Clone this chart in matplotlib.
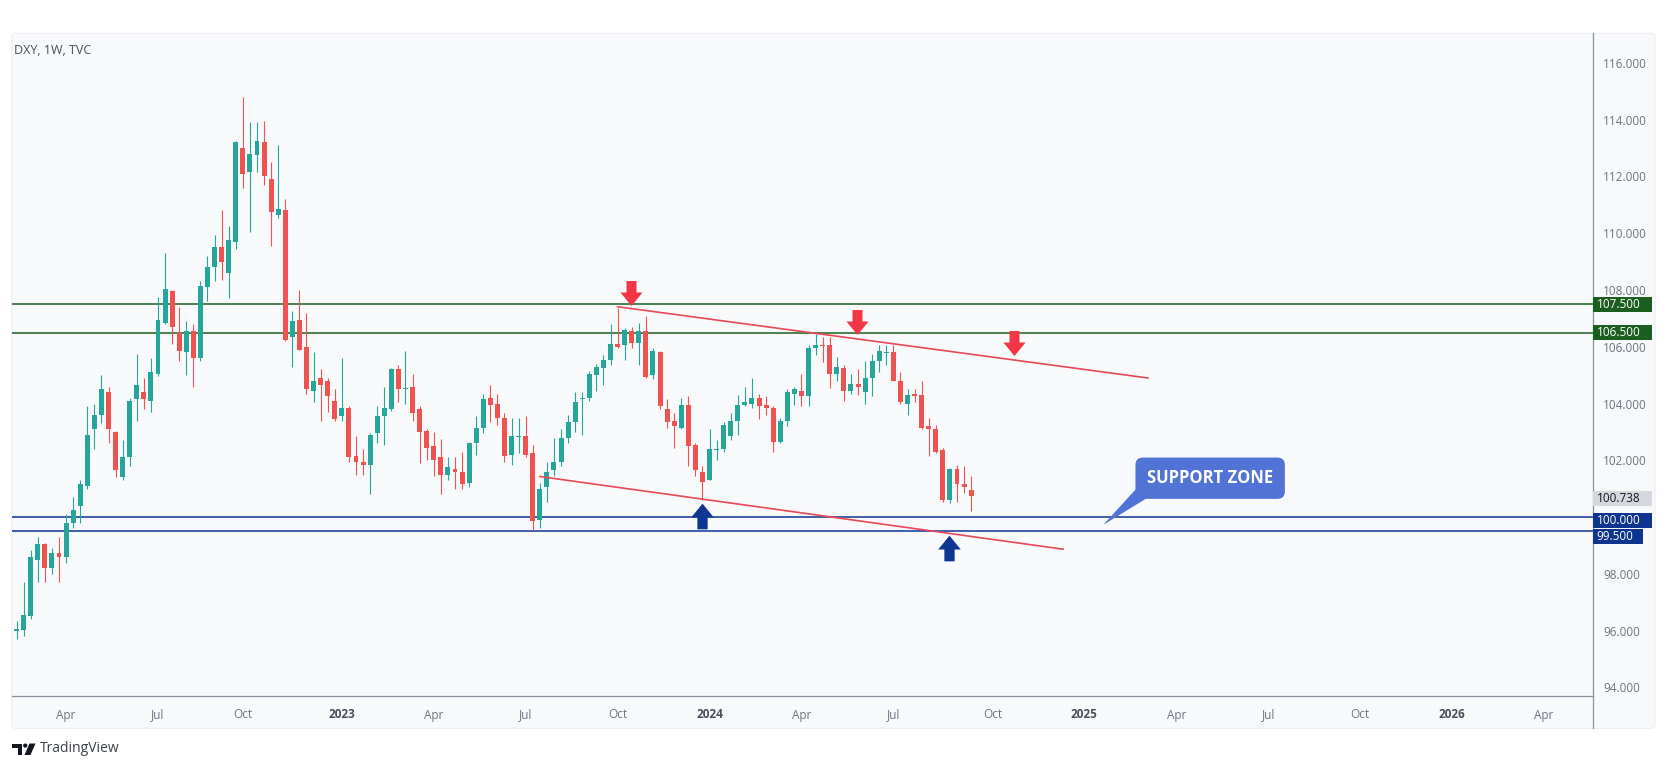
import numpy as np
import pandas as pd
import matplotlib
matplotlib.use('Agg')
import matplotlib.pyplot as plt
import matplotlib.dates as mdates
from matplotlib.path import Path
from matplotlib.patches import FancyBboxPatch, Polygon, Rectangle, Circle

plt.rcParams['font.family'] = ['Open Sans', 'DejaVu Sans']

# ---- data: DXY weekly candles, first bar = week of 2022-02-14 ----
first_week = '2022-02-14'

opens = [
    96.0, 96.02, 96.5, 98.5, 99.05, 98.2, 98.75, 98.6, 99.8, 100.4,
    101.1, 103.1, 103.6, 104.4, 103.0, 101.4, 102.1, 104.15, 104.4, 104.1,
    105.05, 106.85, 107.95, 106.5, 105.8, 106.55, 105.6, 108.1, 108.8, 109.5,
    108.6, 109.7, 113.0, 112.15, 112.75, 113.2, 111.9, 110.65, 110.8, 106.35,
    106.95, 106.0, 104.45, 104.9, 104.8, 104.1, 103.55, 103.85, 102.15, 101.95,
    101.85, 102.95, 103.55, 103.8, 105.2, 104.5, 104.6, 103.8, 103.05, 102.5,
    102.1, 101.5, 101.7, 101.6, 101.2, 102.6, 103.15, 104.2, 104.0, 103.5,
    102.2, 102.83, 102.85, 102.25, 99.9, 101.05, 101.65, 101.95, 102.8, 103.35,
    104.15, 104.2, 105.0, 105.25, 105.55, 106.1, 106.05, 106.55, 106.15, 106.55,
    105.0, 105.8, 103.8, 103.4, 103.15, 103.95, 102.55, 101.6, 101.3, 102.35,
    102.4, 102.85, 103.4, 103.95, 104.0, 104.2, 103.95, 103.85, 102.65, 103.4,
    104.35, 104.45, 104.25, 105.95, 106.05, 106.05, 105.05, 105.25, 104.45, 104.7,
    104.4, 104.9, 105.5, 105.78, 105.8, 104.8, 104.0, 104.32, 104.3, 103.2,
    103.1, 102.35, 100.6, 101.7, 101.15, 100.95]

highs = [
    96.35, 97.7, 98.85, 99.3, 99.1, 98.9, 99.3, 100.1, 100.7, 101.3,
    103.9, 104.0, 105.0, 104.6, 103.05, 102.7, 104.2, 105.75, 104.9, 105.6,
    107.74, 109.3, 108.0, 107.4, 106.9, 106.8, 108.3, 109.2, 109.95, 110.8,
    110.25, 113.25, 114.8, 113.9, 113.9, 113.95, 112.5, 113.1, 111.2, 107.25,
    108.0, 107.2, 105.8, 105.2, 104.9, 104.5, 105.6, 103.9, 102.85, 102.4,
    102.95, 103.9, 104.6, 105.25, 105.35, 105.85, 105.05, 103.9, 103.1, 103.0,
    102.75, 102.1, 102.1, 102.3, 102.65, 103.55, 104.35, 104.65, 104.35, 103.65,
    103.5, 103.5, 103.55, 102.55, 101.2, 101.95, 102.8, 103.1, 103.6, 104.4,
    104.4, 105.15, 105.4, 105.7, 106.8, 107.35, 106.65, 106.7, 106.85, 107.1,
    105.95, 105.85, 104.15, 103.65, 104.2, 104.25, 102.6, 101.8, 103.1, 102.7,
    103.35, 103.65, 104.3, 104.6, 104.9, 104.35, 104.25, 103.9, 103.5, 104.5,
    104.6, 105.05, 106.05, 106.45, 106.35, 106.35, 105.65, 105.35, 105.05, 105.2,
    105.5, 105.75, 106.05, 106.05, 106.05, 105.1, 104.5, 104.5, 104.8, 103.5,
    103.25, 102.45, 101.72, 101.85, 101.8, 101.45]

lows = [
    95.7, 95.8, 96.4, 97.7, 97.7, 98.0, 97.7, 98.4, 99.6, 99.8,
    101.0, 102.4, 103.3, 102.6, 101.4, 101.3, 101.8, 103.4, 103.8, 103.7,
    104.98, 106.8, 106.1, 105.5, 105.0, 104.6, 105.5, 107.6, 108.3, 108.35,
    107.7, 109.45, 111.6, 110.05, 112.15, 111.7, 109.55, 110.55, 106.2, 105.3,
    105.9, 104.35, 104.05, 103.4, 103.7, 103.4, 103.4, 101.95, 101.5, 101.5,
    100.8, 102.6, 102.55, 103.75, 104.05, 104.0, 103.4, 101.9, 102.0, 101.45,
    100.8, 101.3, 101.0, 101.0, 101.05, 102.2, 102.95, 103.35, 103.25, 101.95,
    101.85, 102.25, 102.1, 99.55, 99.6, 100.55, 101.45, 101.8, 102.6, 103.0,
    102.9, 104.1, 104.45, 104.65, 105.35, 105.95, 105.55, 105.95, 105.35, 104.9,
    104.85, 103.8, 103.15, 102.45, 103.1, 101.8, 101.45, 100.6, 101.3, 102.0,
    102.3, 102.7, 102.9, 103.9, 103.85, 103.45, 103.6, 102.3, 102.6, 103.2,
    103.95, 103.9, 103.9, 105.7, 105.45, 104.55, 104.8, 104.1, 104.35, 104.3,
    104.0, 104.25, 105.1, 105.35, 104.8, 104.0, 103.6, 104.05, 103.1, 102.15,
    102.25, 100.55, 100.5, 100.55, 100.85, 100.2]

closes = [
    96.05, 96.55, 98.6, 99.05, 98.2, 98.75, 98.6, 99.8, 100.25, 101.15,
    102.9, 103.6, 104.5, 103.1, 101.65, 102.1, 104.1, 104.65, 104.15, 105.1,
    106.95, 108.05, 106.7, 105.85, 106.55, 105.6, 108.15, 108.8, 109.5, 109.0,
    109.75, 113.2, 112.1, 112.8, 113.25, 112.0, 110.75, 110.85, 106.25, 106.9,
    105.9, 104.5, 104.8, 104.65, 104.25, 103.45, 103.85, 102.1, 101.95, 101.85,
    102.9, 103.55, 103.85, 105.2, 104.5, 104.55, 103.65, 103.0, 102.45, 102.0,
    101.5, 101.75, 101.6, 101.15, 102.6, 103.15, 104.15, 103.95, 103.5, 102.15,
    102.85, 102.87, 102.2, 99.85, 101.0, 101.6, 101.95, 102.8, 103.35, 104.05,
    104.2, 105.05, 105.3, 105.55, 106.1, 106.0, 106.6, 106.15, 106.55, 104.95,
    105.85, 103.9, 103.35, 103.2, 103.95, 102.5, 101.65, 101.25, 102.4, 102.4,
    103.25, 103.4, 103.95, 104.05, 104.2, 103.9, 103.85, 102.65, 103.4, 104.4,
    104.5, 104.25, 105.95, 106.05, 106.03, 105.05, 105.3, 104.45, 104.7, 104.6,
    104.9, 105.5, 105.85, 105.82, 104.8, 104.05, 104.3, 104.28, 103.15, 103.12,
    102.3, 100.6, 101.7, 101.15, 101.05, 100.738]

last_price = 100.738
resistance_levels = [107.5, 106.5]
support_levels = [100.0, 99.5]

# trendlines: (week offset, price)
upper_trend = [(85, 107.41), (160, 104.9)]
lower_trend = [(74, 101.43), (148, 98.87)]

# annotation arrows: (week offset, price)
down_arrows = [(86.9, 107.89), (118.9, 106.88), (141.0, 106.12)]
up_arrows = [(97.0, 100.03), (131.9, 98.92)]

tick_dates = ['2022-04-04', '2022-07-04', '2022-09-26', '2023-01-02', '2023-04-03',
              '2023-07-03', '2023-10-02', '2024-01-01', '2024-04-01', '2024-07-01',
              '2024-10-07', '2025-01-06', '2025-04-07', '2025-07-07', '2025-10-06',
              '2026-01-05', '2026-04-06']
tick_labels = ['Apr', 'Jul', 'Oct', '2023', 'Apr', 'Jul', 'Oct', '2024', 'Apr', 'Jul',
               'Oct', '2025', 'Apr', 'Jul', 'Oct', '2026', 'Apr']

# ---- colours ----
UP = '#26a69a'
DOWN = '#ef5350'
GREEN_LVL = '#1b5e20'
BLUE_LVL = '#0d3590'
TREND = '#e84857'
TXT = '#6f7380'

W, H = 1669, 769
start = pd.Timestamp(first_week)


def wk(n):
    return mdates.date2num(start + pd.Timedelta(days=7 * n))


fig = plt.figure(figsize=(W / 100, H / 100), dpi=100, facecolor='white')

# background panel, title, logo (pixel coordinates)
bg = fig.add_axes([0, 0, 1, 1], zorder=-1)
bg.set_xlim(0, W)
bg.set_ylim(H, 0)
bg.axis('off')
bg.add_patch(FancyBboxPatch((11.7, 33.3), 1655 - 11.7, 728.3 - 33.3,
                            boxstyle='round,pad=0,rounding_size=4',
                            fc='#f8f9fb', ec='#eceef2', lw=0.8))
bg.plot([1592.7, 1592.7], [696, 728.3], color='#8d909a', lw=0.9)
bg.text(13.5, 50.5, 'DXY, 1W, TVC', fontsize=9, color='#4a4e5a', va='center')
bg.add_patch(Rectangle((12, 743.5), 10, 4, fc='#131722', ec='none'))
bg.add_patch(Rectangle((17.5, 743.5), 4.5, 11.5, fc='#131722', ec='none'))
bg.add_patch(Circle((25.2, 745.6), 2.1, fc='#131722', ec='none'))
bg.add_patch(Polygon([(29.5, 743.5), (35.5, 743.5), (30.5, 755), (24.5, 755)],
                     closed=True, fc='#131722', ec='none'))
bg.text(40, 749, 'TradingView', fontsize=10, color='#3b3f4a', va='center')

# main price axes
ax = fig.add_axes([11.7 / W, 1 - 696 / H, (1592.7 - 11.7) / W, (696 - 33.3) / H])
ax.set_facecolor('none')
ax.set_xlim(wk(-0.69), wk(222.9))
ax.set_ylim(93.70, 117.04)

o = np.array(opens)
h = np.array(highs)
l = np.array(lows)
c = np.array(closes)
dates = pd.date_range(start, periods=len(o), freq='7D')
x = mdates.date2num(dates)
cols = np.where(c >= o, UP, DOWN)

ax.vlines(x, l, h, colors=cols, lw=0.8, zorder=3)
ax.bar(x, np.maximum(np.abs(c - o), 0.04), width=4.9, bottom=np.minimum(o, c),
       color=cols, linewidth=0, zorder=3)

for lv in resistance_levels:
    ax.axhline(lv, color=GREEN_LVL, lw=1.1, zorder=2)
for lv in support_levels:
    ax.axhline(lv, color=BLUE_LVL, lw=1.1, zorder=2)

for line in (upper_trend, lower_trend):
    ax.plot([wk(p[0]) for p in line], [p[1] for p in line], color=TREND, lw=1.2, zorder=4)

# arrow markers
down_path = Path([(-0.2, 0.5), (0.2, 0.5), (0.2, 0.04), (0.44, 0.04), (0, -0.5),
                  (-0.44, 0.04), (-0.2, 0.04), (-0.2, 0.5)], closed=True)
up_path = Path([(vx, -vy) for vx, vy in down_path.vertices], closed=True)
ax.plot([wk(a[0]) for a in down_arrows], [a[1] for a in down_arrows], ls='none',
        marker=down_path, markersize=18, color='#f23645', mew=0, zorder=6)
ax.plot([wk(a[0]) for a in up_arrows], [a[1] for a in up_arrows], ls='none',
        marker=up_path, markersize=18.5, color='#0d3592', mew=0, zorder=6)

# support zone callout
CALL = '#5273d6'
ax.add_patch(Polygon([(wk(153.7), 99.73), (wk(158.2), 100.96), (wk(160.3), 101.13),
                      (wk(159.6), 100.63)], closed=True, fc=CALL, ec='none', zorder=6))
ax.text(wk(168.8), 101.37, 'SUPPORT ZONE', fontsize=12, fontweight='bold', color='white',
        ha='center', va='center', zorder=7,
        bbox=dict(boxstyle='round,pad=0.7,rounding_size=0.45', fc=CALL, ec='none'))

# axes styling
for s in ('top', 'left'):
    ax.spines[s].set_visible(False)
for s in ('bottom', 'right'):
    ax.spines[s].set_color('#8d909a')
    ax.spines[s].set_linewidth(0.9)

ax.yaxis.tick_right()
yt = np.arange(94, 117, 2)
ax.set_yticks(yt)
# the 100.000 scale label sits under the blue level tag, so leave it blank
ax.set_yticklabels(['' if v == 100 else '{:.3f}'.format(v) for v in yt])
ax.tick_params(axis='y', length=0, pad=7.5, labelsize=8.5, labelcolor=TXT)

ax.set_xticks([mdates.date2num(pd.Timestamp(d)) for d in tick_dates])
ax.set_xticklabels(tick_labels)
ax.tick_params(axis='x', length=0, pad=9, labelsize=8.5, labelcolor=TXT)
for lab in ax.get_xticklabels():
    if lab.get_text().isdigit():
        lab.set_fontweight('bold')
        lab.set_color('#4a4e5a')

# price tags on the right scale
px_unit = 662.7 / (117.04 - 93.70)
ax_w = 1592.7 - 11.7
tags = [(107.5, '107.500', GREEN_LVL, 'white', 59),
        (106.5, '106.500', GREEN_LVL, 'white', 59),
        (100.66, '{:.3f}'.format(last_price), '#d5d7dd', '#131722', 59),
        (99.89, '100.000', BLUE_LVL, 'white', 59),
        (99.33, '99.500', BLUE_LVL, 'white', 50)]
ytr = ax.get_yaxis_transform()
for yv, txt, fc, tc, wpx in tags:
    hh = 15 / px_unit
    ax.add_patch(Rectangle((1.0, yv - hh / 2), wpx / ax_w, hh, transform=ytr,
                           fc=fc, ec='none', clip_on=False, zorder=8))
    ax.text(1.0 + 4 / ax_w, yv, txt, transform=ytr, ha='left', va='center',
            fontsize=8.5, color=tc, clip_on=False, zorder=9)

fig.savefig('out.png', dpi=100, facecolor='white')
